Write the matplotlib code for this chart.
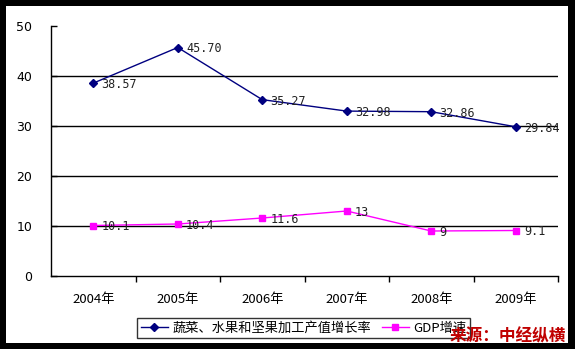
import numpy as np
import matplotlib
matplotlib.use('Agg')
import matplotlib.pyplot as plt
from matplotlib.patches import Rectangle

plt.rcParams['font.family'] = ['Noto Sans CJK SC', 'DejaVu Sans']

##########
# Inputs #
##########

years = ['2004年', '2005年', '2006年', '2007年', '2008年', '2009年']
veg_growth = [38.57, 45.70, 35.27, 32.98, 32.86, 29.84]
veg_labels = ['38.57', '45.70', '35.27', '32.98', '32.86', '29.84']
gdp_growth = [10.1, 10.4, 11.6, 13, 9, 9.1]
gdp_labels = ['10.1', '10.4', '11.6', '13', '9', '9.1']
yticks = [0, 10, 20, 30, 40, 50]
series_names = ['蔬菜、水果和坚果加工产值增长率', 'GDP增速']
source_text = '来源：中经纵横'

#############
# Make plot #
#############

fig = plt.figure(figsize=(5.75, 3.49), dpi=100)
fig.patch.set_facecolor('black')
# white panel inside the black frame
fig.patches.append(Rectangle((6/575., 6/349.), 562/575., 337/349., transform=fig.transFigure,
                             facecolor='white', edgecolor='none', zorder=-5))

ax = fig.add_axes([51/575., 73/349., 507/575., 250/349.])
ax.set_zorder(1)
ax.set_facecolor('white')
xpos = np.arange(len(years))

for yy in yticks[1:-1]:
  ax.axhline(yy, color='k', lw=1.0, zorder=1)

l1, = ax.plot(xpos, veg_growth, color='#000080', lw=1.0, marker='D', markersize=4.0, zorder=3)
l2, = ax.plot(xpos, gdp_growth, color='#FF00FF', lw=1.0, marker='s', markersize=4.6, zorder=3)

for i in range(len(xpos)):
  ax.annotate(veg_labels[i], (xpos[i], veg_growth[i]), xytext=(6, -1), textcoords='offset points',
              va='center', ha='left', fontsize=8.5, family='DejaVu Sans Mono', color='#222222')
  ax.annotate(gdp_labels[i], (xpos[i], gdp_growth[i]), xytext=(6, -1), textcoords='offset points',
              va='center', ha='left', fontsize=8.5, family='DejaVu Sans Mono', color='#222222')

ax.set_xlim(-0.5, len(years) - 0.5)
ax.set_ylim(0, 50)
ax.set_xticks(xpos)
ax.set_xticklabels(years, fontsize=9.5)
ax.set_xticks(np.arange(0.5, len(years), 1.0), minor=True)
ax.tick_params(axis='x', which='major', length=0, pad=12)
ax.tick_params(axis='x', which='minor', length=4, width=1, direction='out')
ax.set_yticks(yticks)
ax.set_yticklabels([str(v) for v in yticks], fontsize=9, family='DejaVu Sans')
ax.tick_params(axis='y', length=4, width=1, direction='in', pad=13.5)

for side in ['top', 'right']:
  ax.spines[side].set_visible(False)
ax.spines['left'].set_linewidth(1.0)
ax.spines['bottom'].set_linewidth(1.0)

leg = fig.legend([l1, l2], series_names, loc='center', bbox_to_anchor=(303.5/575., 21/349.), ncol=2,
                 fontsize=9.5, frameon=True, fancybox=False, handlelength=2.1, handletextpad=0.3,
                 columnspacing=0.8, borderpad=0.25)
leg.get_frame().set_edgecolor('black')
leg.get_frame().set_linewidth(1.0)
leg.set_zorder(2)

fig.text(508/575., 13/349., source_text, ha='center', va='center', fontsize=12,
         fontweight='bold', color='#C00000', zorder=3)

plt.savefig('out.png', dpi=100, facecolor=fig.get_facecolor())
plt.close()
